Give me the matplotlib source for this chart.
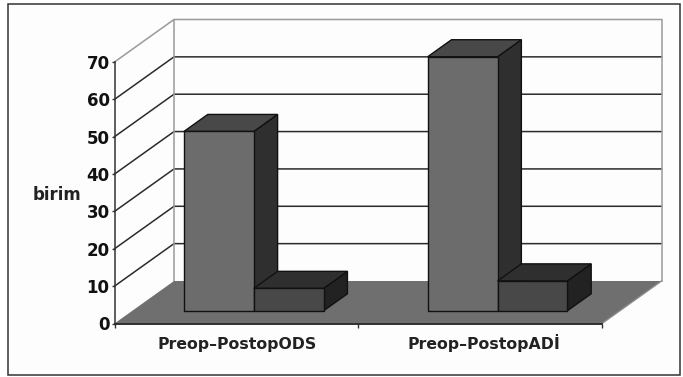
import matplotlib
matplotlib.use("Agg")
import matplotlib.pyplot as plt
from matplotlib.patches import Polygon, Rectangle

categories = ["Preop–PostopODS", "Preop–PostopADİ"]
series_a = [48, 68]
series_b = [6, 8]
y_ticks = [0, 10, 20, 30, 40, 50, 60, 70]
y_label = "birim"

W, H = 683, 377
# layout in pixels
L, R, T, B = 114.5, 602.0, 62.0, 323.5
XU = (R - L) / 2.0
YU = (B - T) / 70.0
DX = 59.5 / XU   # full depth expressed in data units
DY = 42.5 / YU

fig = plt.figure(figsize=(W / 100, H / 100), dpi=100, facecolor="white")
fig.add_artist(Rectangle((8 / W, 1 - 375 / H), 672 / W, 371 / H, transform=fig.transFigure,
                         fc="#fdfdfd", ec="#333333", lw=1.1, zorder=-1))
ax = fig.add_axes([L / W, 1 - B / H, (R - L) / W, (B - T) / H])
ax.set_xlim(0, 2)
ax.set_ylim(0, 70)
ax.patch.set_alpha(0)


def proj(x, y, d):
    return (x + d * DX, y + d * DY)


def poly(pts, fc, ec="none", lw=0, z=2):
    ax.add_patch(Polygon(pts, closed=True, fc=fc, ec=ec, lw=lw, zorder=z, clip_on=False))


# gridlines and walls
for v in y_ticks[1:]:
    top = v == y_ticks[-1]
    c = "#9a9a9a" if top else "#2b2b2b"
    xs = [0, DX, 2 + DX]
    ys = [v, v + DY, v + DY]
    ax.plot(xs, ys, color=c, lw=1.1, zorder=1, clip_on=False)
ax.plot([DX, DX], [0 + DY, 70 + DY], color="#9a9a9a", lw=1.1, zorder=1, clip_on=False)
ax.plot([2 + DX, 2 + DX], [0 + DY, 70 + DY], color="#9a9a9a", lw=1.1, zorder=1, clip_on=False)

# floor
poly([proj(0, 0, 0), proj(2, 0, 0), proj(2, 0, 1), proj(0, 0, 1)], "#6f6f6f", z=1.5)
ax.plot([2, 2 + DX], [0, DY], color="#8a8a8a", lw=1.0, zorder=1.6, clip_on=False)

EC = "#111111"
LW = 1.0
BW = 0.2865
D0, D1 = 0.30, 0.70


def bar3d(x0, val, front, top, side, z):
    x1 = x0 + BW
    poly([proj(x1, 0, D0), proj(x1, val, D0), proj(x1, val, D1), proj(x1, 0, D1)], side, EC, LW, z)
    poly([proj(x0, val, D0), proj(x1, val, D0), proj(x1, val, D1), proj(x0, val, D1)], top, EC, LW, z)
    poly([proj(x0, 0, D0), proj(x1, 0, D0), proj(x1, val, D0), proj(x0, val, D0)], front, EC, LW, z)


for i, (a, b) in enumerate(zip(series_a, series_b)):
    bar3d(i + 0.285 - D0 * DX, a, "#6c6c6c", "#484848", "#2f2f2f", 3 + i)
    bar3d(i + 0.285 + BW - D0 * DX, b, "#484848", "#2f2f2f", "#222222", 3.5 + i)

# axes
for s in ("top", "right"):
    ax.spines[s].set_visible(False)
ax.spines["left"].set_color("#333333")
ax.spines["bottom"].set_color("#222222")
ax.spines["left"].set_linewidth(1.1)
ax.spines["bottom"].set_linewidth(1.3)
ax.set_yticks(y_ticks)
ax.set_xticks([0, 1, 2])
ax.set_xticklabels([])
ax.set_xticks([0.505, 1.515], minor=True)
ax.set_xticklabels(categories, minor=True, fontsize=11.3, fontweight="bold", color="#222222",
                   va="baseline")
ax.tick_params(axis="x", which="major", length=3, width=1, color="#333333")
ax.tick_params(axis="x", which="minor", length=0, pad=18)
ax.tick_params(axis="y", length=2.5, width=1, color="#333333", pad=1, labelsize=12, labelcolor="#111111")
for t in ax.get_yticklabels():
    t.set_fontweight("bold")
ax.set_ylabel(y_label, rotation=0, fontsize=12, fontweight="bold", color="#222222",
              ha="center", va="center")
ax.yaxis.set_label_coords((57 - L) / (R - L), (B - 195) / (B - T))

fig.savefig("out.png", dpi=100)
